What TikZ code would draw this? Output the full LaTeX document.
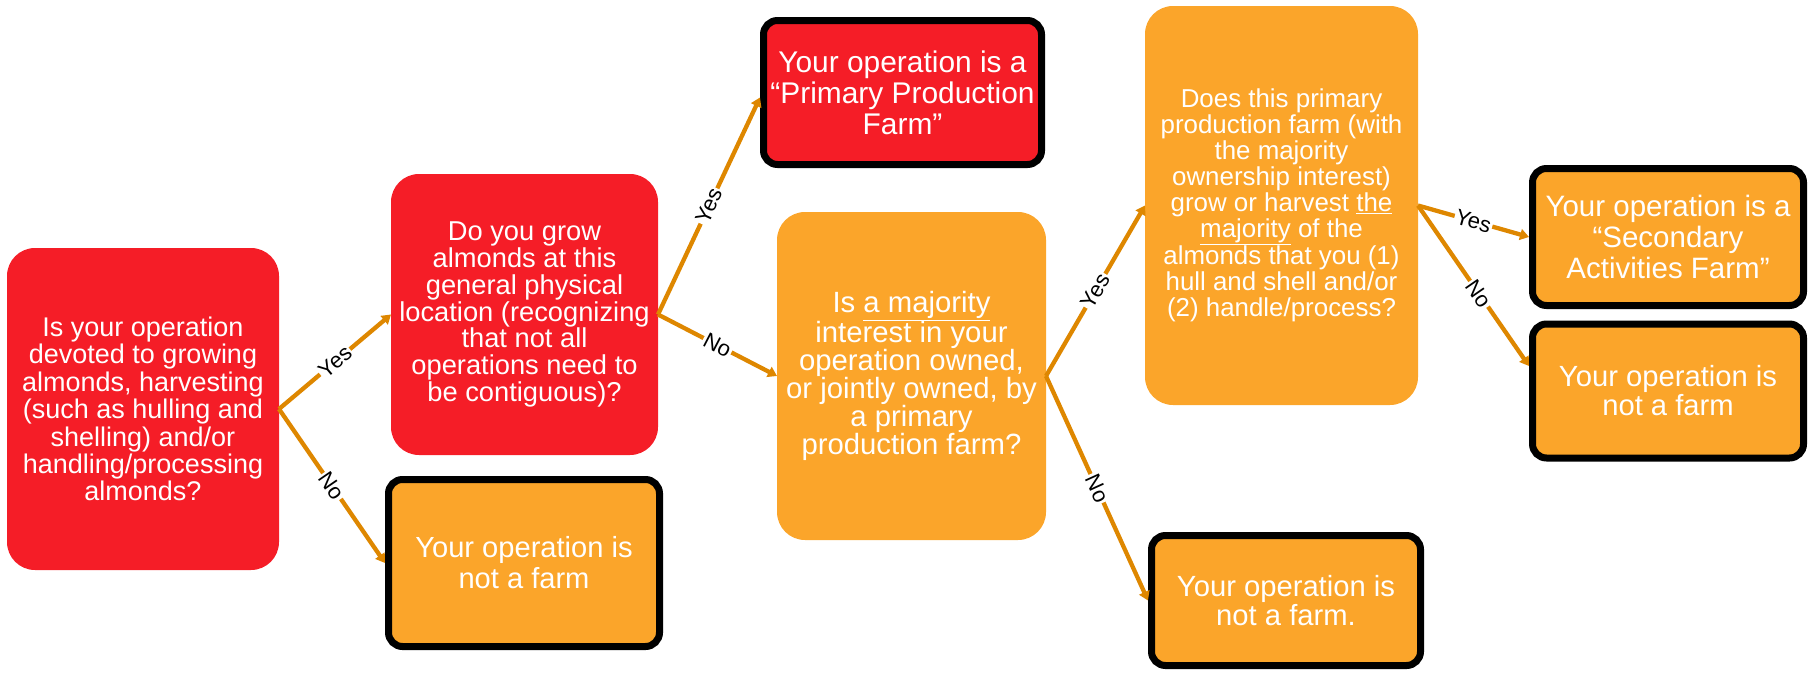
\documentclass[tikz,border=0pt]{standalone}
\usepackage{fontspec}
\setmainfont{Liberation Sans}
\usetikzlibrary{arrows.meta,calc}
\definecolor{boxred}{HTML}{F51D27}
\definecolor{boxorange}{HTML}{FBA52A}
\definecolor{arrowc}{HTML}{DE8700}
\tikzset{
  qbox/.style={rounded corners=28pt, text=white, align=center, inner sep=0pt, outer sep=0pt},
  rbox/.style={rounded corners=14pt, draw=black, line width=7pt, text=white, align=center, inner sep=0pt},
  redfill/.style={fill=boxred},
  orfill/.style={fill=boxorange},
  conn/.style={draw=arrowc, line width=4.3pt, -{Triangle[length=9pt,width=11pt]}},
  lab/.style={fill=white, text=black, font=\fontsize{22}{24}\selectfont, inner sep=1.5pt, sloped, midway}
}
\begin{document}
\begin{tikzpicture}[x=1pt,y=-1pt]
\useasboundingbox (0,0) rectangle (1814,672);
% question boxes
\node[qbox, redfill, minimum width=272pt, minimum height=322pt, font=\fontsize{27}{27.4}\selectfont] (A) at (143,409)
  {Is your operation\\devoted to growing\\almonds, harvesting\\(such as hulling and\\shelling) and/or\\handling/processing\\almonds?};
\node[qbox, redfill, minimum width=267pt, minimum height=281pt, font=\fontsize{27.3}{26.8}\selectfont] (B) at (524.5,314.5)
  {Do you grow\\almonds at this\\general physical\\location (recognizing\\that not all\\operations need to\\be contiguous)?};
\node[qbox, orfill, minimum width=269pt, minimum height=328pt, font=\fontsize{29.3}{28}\selectfont] (E) at (911.5,376)
  {Is \underline{a majority}\\interest in your\\operation owned,\\or jointly owned, by\\a primary\\production farm?};
\node[qbox, orfill, minimum width=273pt, minimum height=399pt, font=\fontsize{25.9}{26}\selectfont] (F) at (1281.5,205.5)
  {Does this primary\\production farm (with\\the majority\\ownership interest)\\grow or harvest \underline{the}\\\underline{majority} of the\\almonds that you (1)\\hull and shell and/or\\(2) handle/process?};
% result boxes
\node[rbox, orfill, minimum width=271pt, minimum height=167pt, font=\fontsize{29.1}{31}\selectfont] (C) at (524,563)
  {Your operation is\\not a farm};
\node[rbox, redfill, minimum width=278pt, minimum height=144pt, font=\fontsize{29.9}{31}\selectfont] (D) at (902.5,92.5)
  {Your operation is a\\“Primary Production\\Farm”};
\node[rbox, orfill, minimum width=271pt, minimum height=137pt, font=\fontsize{29.5}{30.7}\selectfont] (G) at (1668,237)
  {Your operation is a\\“Secondary\\Activities Farm”};
\node[rbox, orfill, minimum width=271pt, minimum height=134pt, font=\fontsize{29.2}{29}\selectfont] (H) at (1668,391)
  {Your operation is\\not a farm};
\node[rbox, orfill, minimum width=269pt, minimum height=130pt, font=\fontsize{29.2}{29}\selectfont] (I) at (1286,600.5)
  {Your operation is\\not a farm.};
% connectors
\draw[conn] (A.east) -- (B.west) node[lab]{Yes};
\draw[conn] (A.east) -- (C.west) node[lab]{No};
\draw[conn] (B.east) -- ([yshift=-5pt]D.west) node[lab]{Yes};
\draw[conn] (B.east) -- (E.west) node[lab]{No};
\draw[conn] (E.east) -- (F.west) node[lab]{Yes};
\draw[conn] (E.east) -- (I.west) node[lab]{No};
\draw[conn] (F.east) -- (G.west) node[lab]{Yes};
\draw[conn] (F.east) -- ([yshift=25pt]H.west) node[lab, pos=0.55]{No};
\end{tikzpicture}
\end{document}
